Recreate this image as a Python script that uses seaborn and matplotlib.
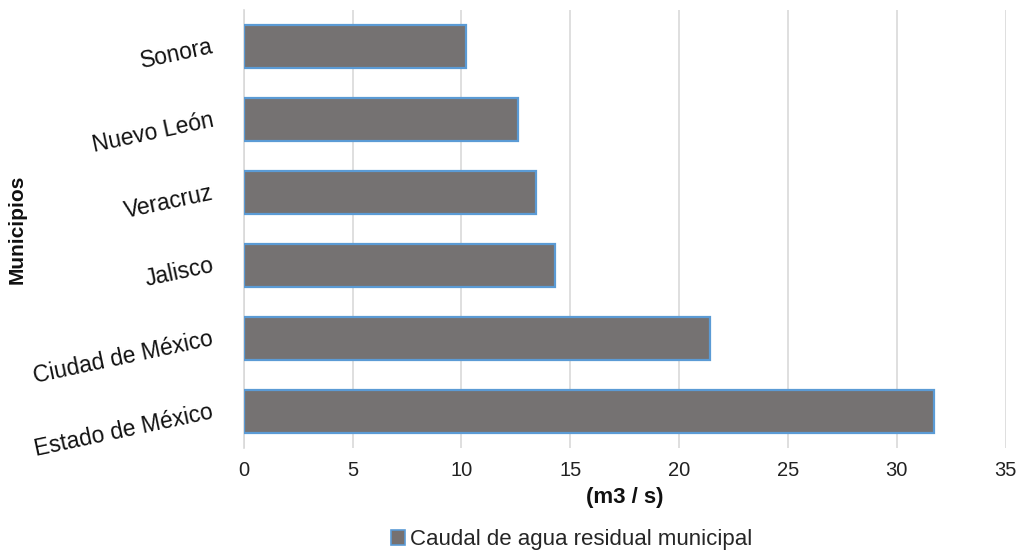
import matplotlib
matplotlib.use("Agg")
import matplotlib.pyplot as plt
import seaborn as sns
import pandas as pd

estados = ["Sonora", "Nuevo León", "Veracruz", "Jalisco",
           "Ciudad de México", "Estado de México"]
caudal = [10.2, 12.6, 13.45, 14.3, 21.4, 31.7]
serie = "Caudal de agua residual municipal"
x_ticks = [0, 5, 10, 15, 20, 25, 30, 35]

df = pd.DataFrame({"Municipios": estados, "Caudal": caudal, "Serie": serie})

sns.set_theme(style="white")
plt.rcParams["font.family"] = ["Liberation Sans", "DejaVu Sans"]

fig = plt.figure(figsize=(10.24, 5.54), dpi=100)
ax = fig.add_axes([0.238, 0.191, 0.744, 0.791])

bar_color = "#767171"
edge_color = "#5B9BD5"

sns.barplot(data=df, x="Caudal", y="Municipios", hue="Serie",
            palette=[bar_color], orient="h", width=0.58,
            edgecolor=edge_color, linewidth=1.6, legend=False, ax=ax,
            zorder=3)

ax.set_xlim(0, 35)
ax.set_xticks(x_ticks)
ax.set_xticklabels([str(t) for t in x_ticks], fontsize=14.5, color="#222222")
ax.xaxis.grid(True, color="#d9d9d9", linewidth=1.2, zorder=0)
ax.yaxis.grid(False)
ax.tick_params(axis="x", length=0, pad=9)
ax.tick_params(axis="y", length=0, pad=22)

for lbl in ax.get_yticklabels():
    lbl.set_rotation(12)
    lbl.set_rotation_mode("anchor")
    lbl.set_ha("right")
    lbl.set_va("center")
    lbl.set_fontsize(16.5)
    lbl.set_color("#111111")

for side in ["top", "right", "bottom"]:
    ax.spines[side].set_visible(False)
ax.spines["left"].set_color("#d9d9d9")
ax.spines["left"].set_linewidth(1.2)

ax.set_xlabel("(m3 / s)", fontsize=16, fontweight="bold", labelpad=5,
              color="#111111")
ax.set_ylabel("Municipios", fontsize=15, fontweight="bold",
              color="#111111")
ax.yaxis.set_label_coords(-0.285, 0.5)

handle = plt.Rectangle((0, 0), 1, 1, facecolor=bar_color,
                       edgecolor=edge_color, linewidth=1.2)
fig.legend([handle], [serie], loc="center",
           bbox_to_anchor=(0.558, 0.026), frameon=False, fontsize=16,
           handlelength=0.65, handleheight=0.65, handletextpad=0.2)

fig.savefig("out.png", dpi=100, facecolor="white")
